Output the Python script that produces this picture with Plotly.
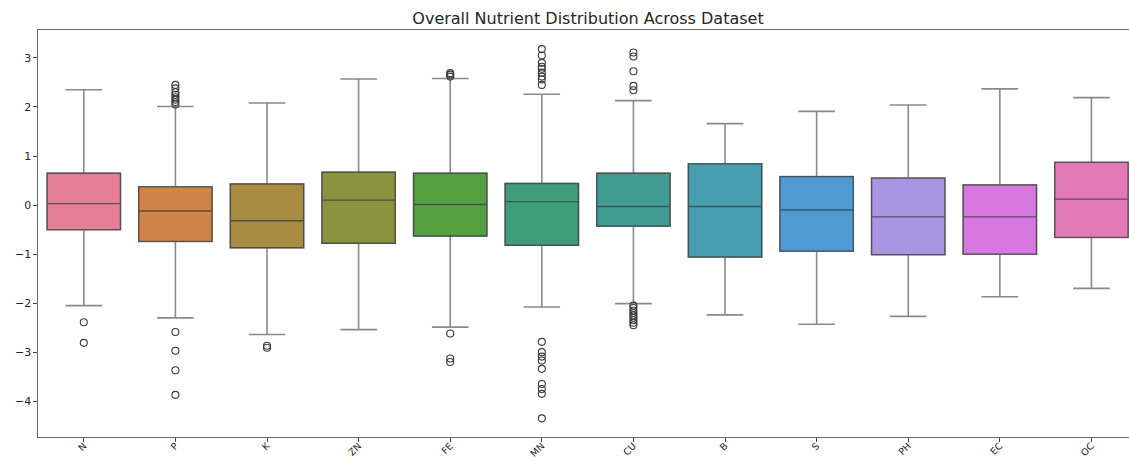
import plotly.graph_objects as go

categories = ["N", "P", "K", "ZN", "FE", "MN", "CU", "B", "S", "PH", "EC", "OC"]
q1 = [-0.50, -0.74, -0.87, -0.78, -0.63, -0.82, -0.43, -1.06, -0.94, -1.01, -1.00, -0.66]
median = [0.03, -0.12, -0.32, 0.10, 0.01, 0.07, -0.03, -0.03, -0.10, -0.24, -0.24, 0.12]
q3 = [0.65, 0.37, 0.43, 0.67, 0.65, 0.44, 0.65, 0.84, 0.58, 0.55, 0.41, 0.87]
lower_whisker = [-2.05, -2.30, -2.64, -2.54, -2.49, -2.08, -2.01, -2.24, -2.43, -2.27, -1.87, -1.70]
upper_whisker = [2.35, 2.01, 2.08, 2.57, 2.58, 2.26, 2.13, 1.66, 1.91, 2.04, 2.37, 2.19]
outliers = {
    "N": [-2.39, -2.81],
    "P": [2.05, 2.10, 2.15, 2.20, 2.25, 2.30, 2.38, 2.45, -2.59, -2.97, -3.37, -3.87],
    "K": [-2.87, -2.91],
    "ZN": [],
    "FE": [2.62, 2.66, 2.69, -2.62, -3.13, -3.20],
    "MN": [2.45, 2.56, 2.62, 2.70, 2.78, 2.82, 2.90, 3.05, 3.18,
           -2.79, -3.00, -3.09, -3.17, -3.34, -3.65, -3.75, -3.85, -4.35],
    "CU": [2.34, 2.43, 2.73, 3.03, 3.11,
           -2.05, -2.10, -2.15, -2.20, -2.25, -2.30, -2.35, -2.40, -2.45],
    "B": [], "S": [], "PH": [], "EC": [], "OC": [],
}
colors = ["#e57f93", "#d18447", "#a88c41", "#8a9440", "#55a040", "#409d7c",
          "#419c92", "#469eb0", "#4e9bd4", "#a996e3", "#d977e1", "#e27ab8"]

fig = go.Figure()
for i, c in enumerate(categories):
    # whiskers layer
    fig.add_trace(go.Box(
        x=[c], q1=[q1[i]], median=[median[i]], q3=[q3[i]],
        lowerfence=[lower_whisker[i]], upperfence=[upper_whisker[i]],
        width=0.8, whiskerwidth=0.5, fillcolor=colors[i],
        line=dict(color="#8a8a8a", width=1.6), boxpoints=False,
        showlegend=False, hoverinfo="skip"))
    # box layer with darker edges
    fig.add_trace(go.Box(
        x=[c], q1=[q1[i]], median=[median[i]], q3=[q3[i]],
        lowerfence=[q1[i]], upperfence=[q3[i]],
        width=0.8, whiskerwidth=0, fillcolor=colors[i],
        line=dict(color="rgba(60,60,60,0.75)", width=1.4), boxpoints=False,
        showlegend=False))
    if outliers[c]:
        fig.add_trace(go.Scatter(
            x=[c] * len(outliers[c]), y=outliers[c], mode="markers",
            marker=dict(symbol="circle-open", size=7, color="#3a3a3a",
                        line=dict(width=1.1, color="#3a3a3a")),
            showlegend=False))

fig.update_layout(
    width=1129, height=459,
    margin=dict(l=38, r=0, t=30, b=22),
    paper_bgcolor="white", plot_bgcolor="white",
    boxmode="overlay",
    font=dict(family="DejaVu Sans", color="#262626", size=11),
    title=dict(text="Overall Nutrient Distribution Across Dataset",
               x=588 / 1129, xref="container", xanchor="center",
               y=1 - 18 / 459, yref="container", yanchor="middle",
               font=dict(size=16, color="#262626")),
)
fig.update_xaxes(
    type="category", categoryorder="array", categoryarray=categories,
    range=[-0.5, 11.41], showgrid=False, zeroline=False,
    showline=True, linecolor="#6a6a6a", linewidth=1.3, mirror=True,
    ticks="outside", ticklen=3.5, tickcolor="#444", tickangle=-45,
    ticklabelstandoff=-5,
    tickfont=dict(size=9.5), automargin=False)
fig.update_yaxes(
    range=[-4.73, 3.57], tickvals=[-4, -3, -2, -1, 0, 1, 2, 3],
    showgrid=False, zeroline=False,
    showline=True, linecolor="#6a6a6a", linewidth=1.3,
    ticks="outside", ticklen=3.5, tickcolor="#444",
    tickfont=dict(size=11), automargin=False)

fig.write_html("out.html")
